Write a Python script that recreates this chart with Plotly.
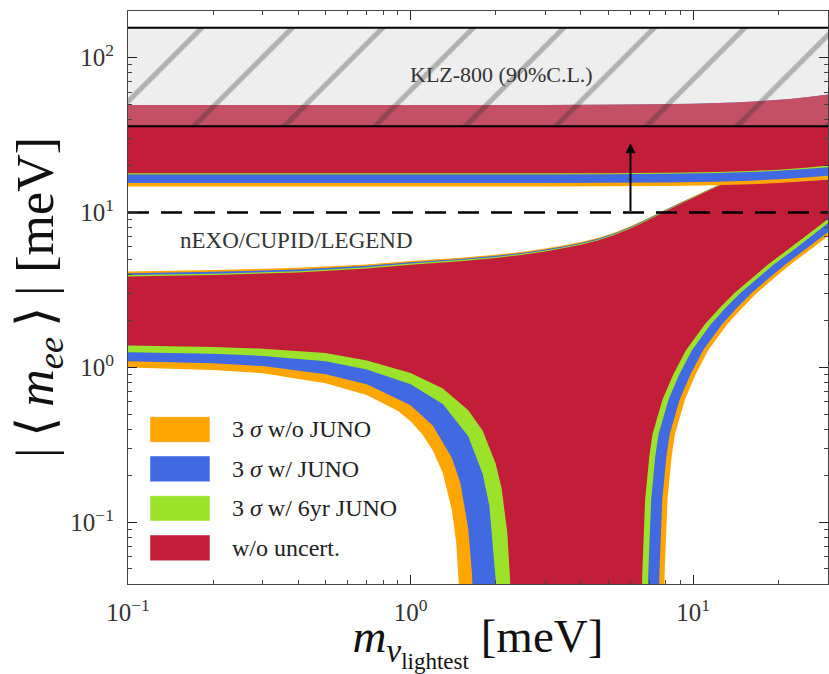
import numpy as np
import plotly.graph_objects as go

# ---------------- data (all in meV) ----------------
series_names = ["3 <i>σ</i> w/o JUNO", "3 <i>σ</i> w/ JUNO", "3 <i>σ</i> w/ 6yr JUNO", "w/o uncert."]
series_colors = ["#FFA500", "#4169E1", "#9DE22A", "#C21E3A"]

# Normal ordering: upper boundary
no_up_x = [0.1, 0.2, 0.4, 0.7, 1.0, 1.5, 2.0, 2.5, 3.0, 3.5, 4.0, 4.6, 5.2, 6.0, 6.8, 7.8, 9.0, 10.2, 12.7, 16, 20, 25, 30]
no_up_orange = [4.17, 4.25, 4.4, 4.62, 4.86, 5.1, 5.34, 5.58, 5.85, 6.15, 6.45, 6.85, 7.35, 8.15, 9.05, 10.23, 11.6, 12.89, 15.54, 19.1, 23.4, 28.8, 34.2]
no_up_blue = [4.06, 4.14, 4.29, 4.53, 4.77, 5.02, 5.26, 5.5, 5.77, 6.07, 6.37, 6.77, 7.27, 8.07, 8.97, 10.15, 11.52, 12.81, 15.46, 19.0, 23.3, 28.7, 34.1]
no_up_green = [3.95, 4.03, 4.18, 4.43, 4.68, 4.93, 5.17, 5.41, 5.68, 5.98, 6.28, 6.68, 7.18, 7.98, 8.88, 10.06, 11.43, 12.72, 15.37, 18.9, 23.2, 28.6, 34.0]
no_up_red = [3.87, 3.95, 4.1, 4.35, 4.6, 4.85, 5.09, 5.33, 5.6, 5.9, 6.2, 6.6, 7.1, 7.9, 8.8, 9.98, 11.35, 12.64, 15.29, 18.8, 23.1, 28.5, 33.9]

# Normal ordering: lower boundary, left branch (0.01 = vanishing)
no_lo_left_orange_x = [0.1, 0.2, 0.3, 0.5, 0.7, 0.9, 1.0, 1.1, 1.2, 1.3, 1.4, 1.45, 1.5, 1.53]
no_lo_left_orange_y = [1.0, 0.963, 0.918, 0.79, 0.665, 0.525, 0.45, 0.37, 0.29, 0.209, 0.12, 0.074, 0.028, 0.01]
no_lo_left_blue_x = [0.1, 0.2, 0.3, 0.5, 0.7, 1.0, 1.2, 1.4, 1.5, 1.6, 1.65, 1.7]
no_lo_left_blue_y = [1.098, 1.063, 1.02, 0.905, 0.78, 0.57, 0.42, 0.26, 0.18, 0.091, 0.046, 0.01]
no_lo_left_green_x = [0.1, 0.2, 0.3, 0.5, 0.7, 1.0, 1.3, 1.6, 1.8, 1.9, 2.0, 2.05]
no_lo_left_green_y = [1.255, 1.225, 1.187, 1.097, 0.97, 0.78, 0.58, 0.36, 0.205, 0.128, 0.043, 0.01]
no_lo_left_red_x = [0.1, 0.2, 0.3, 0.5, 0.7, 1.0, 1.3, 1.6, 1.8, 2.0, 2.1, 2.2, 2.25, 2.3]
no_lo_left_red_y = [1.386, 1.357, 1.322, 1.238, 1.11, 0.92, 0.73, 0.53, 0.39, 0.24, 0.166, 0.085, 0.0425, 0.01]

# Normal ordering: lower boundary, right branch
no_lo_right_y = [0.01, 0.045, 0.14, 0.27, 0.37, 0.62, 0.9, 1.29, 1.9, 2.42, 3.02, 3.8, 4.65, 5.65, 6.85]
no_lo_right_orange_x = [7.86, 7.92, 8.11, 8.4, 8.62, 9.35, 10.2, 11.3, 13.2, 14.9, 16.8, 19.4, 22.2, 25.6, 29.4]
no_lo_right_blue_x = [7.53, 7.59, 7.77, 8.05, 8.26, 8.96, 9.78, 10.84, 12.65, 14.26, 16.1, 18.6, 21.3, 24.5, 28.2]
no_lo_right_green_x = [6.88, 6.93, 7.1, 7.35, 7.54, 8.18, 8.93, 9.9, 11.55, 13.0, 14.7, 17.0, 19.4, 22.4, 25.7]
no_lo_right_red_x = [6.55, 6.6, 6.76, 7.0, 7.18, 7.79, 8.5, 9.43, 11.0, 12.4, 14.0, 16.2, 18.5, 21.3, 24.5]
no_lo_right_end_x = [30, 30, 30, 30]
no_lo_right_end_y = [7.05, 7.5, 8.55, 9.1]   # orange, blue, green, red at right edge

# Inverted ordering
io_up_x = [0.1, 3, 6, 10, 14, 18, 22, 26, 30]
io_up_y = [49.4, 49.5, 49.8, 50.4, 51.3, 52.6, 54.1, 55.9, 57.8]          # red & blue
io_up_inner_y = [48.6, 48.7, 49.0, 49.6, 50.5, 51.8, 53.3, 55.1, 57.0]    # orange & green
io_lo_x = [0.1, 1, 3, 5, 8, 12, 16, 20, 25, 30]
io_lo_orange = [14.7, 14.7, 14.72, 14.76, 14.84, 15.0, 15.23, 15.52, 15.92, 16.3]
io_lo_blue = [15.5, 15.5, 15.52, 15.56, 15.65, 15.82, 16.07, 16.38, 16.83, 17.3]
io_lo_green = [17.6, 17.6, 17.62, 17.66, 17.77, 17.97, 18.24, 18.6, 19.1, 19.6]
io_lo_red = [17.9, 17.9, 17.92, 17.96, 18.07, 18.27, 18.55, 18.91, 19.45, 20.1]

# Experimental limits
klz_x = [0.1, 30]
klz_low = 36.0
klz_high = 156.0
future_limit = 10.0
arrow_x = 6.0
arrow_y = [10.0, 28.0]

x_range = [0.1, 30]
y_range = [0.04, 200]
x_tickvals = [0.1, 1, 10]
x_ticktext = ["10<sup>−1</sup>", "10<sup>0</sup>", "10<sup>1</sup>"]
y_tickvals = [0.1, 1, 10, 100]
y_ticktext = ["10<sup>−1</sup>", "10<sup>0</sup>", "10<sup>1</sup>", "10<sup>2</sup>"]

# ---------------- figure ----------------
fig = go.Figure()

no_up = [no_up_orange, no_up_blue, no_up_green, no_up_red]
no_left = [(no_lo_left_orange_x, no_lo_left_orange_y), (no_lo_left_blue_x, no_lo_left_blue_y),
           (no_lo_left_green_x, no_lo_left_green_y), (no_lo_left_red_x, no_lo_left_red_y)]
no_right = [no_lo_right_orange_x, no_lo_right_blue_x, no_lo_right_green_x, no_lo_right_red_x]
io_lo = [io_lo_orange, io_lo_blue, io_lo_green, io_lo_red]
io_up = [io_up_inner_y, io_up_y, io_up_inner_y, io_up_y]

for i in range(4):
    rx = list(no_right[i]) + [no_lo_right_end_x[i]]
    ry = list(no_lo_right_y) + [no_lo_right_end_y[i]]
    lx, ly = no_left[i]
    xs = list(no_up_x) + rx[::-1] + list(lx)[::-1]
    ys = list(no_up[i]) + ry[::-1] + list(ly)[::-1]
    fig.add_trace(go.Scatter(x=xs, y=ys, fill="toself", fillcolor=series_colors[i],
                             mode="none", showlegend=False, hoverinfo="skip"))

for i in range(4):
    xs = list(io_lo_x) + list(io_up_x)[::-1]
    ys = list(io_lo[i]) + list(io_up[i])[::-1]
    fig.add_trace(go.Scatter(x=xs, y=ys, fill="toself", fillcolor=series_colors[i],
                             mode="none", showlegend=False, hoverinfo="skip"))

# KLZ excluded band (translucent gray + hatch)
kx = [klz_x[0], klz_x[1], klz_x[1], klz_x[0]]
ky = [klz_low, klz_low, klz_high, klz_high]
fig.add_trace(go.Scatter(x=kx, y=ky, fill="toself", fillcolor="rgba(200,200,200,0.3)",
                         mode="none", showlegend=False, hoverinfo="skip"))
fig.add_trace(go.Scatter(x=kx, y=ky, fill="toself", fillcolor="rgba(0,0,0,0)", mode="none",
                         fillpattern=dict(shape="/", size=64, solidity=0.08,
                                          fgcolor="rgba(40,40,40,0.62)", bgcolor="rgba(0,0,0,0)"),
                         showlegend=False, hoverinfo="skip"))
for yv in (klz_low, klz_high):
    fig.add_trace(go.Scatter(x=klz_x, y=[yv, yv], mode="lines",
                             line=dict(color="black", width=2), showlegend=False, hoverinfo="skip"))

# future sensitivity (dashed)
fig.add_trace(go.Scatter(x=klz_x, y=[future_limit, future_limit], mode="lines",
                         line=dict(color="black", width=2.6, dash="21px,12px"),
                         showlegend=False, hoverinfo="skip"))

fig.add_annotation(x=np.log10(arrow_x), y=np.log10(arrow_y[1]), ax=np.log10(arrow_x),
                   ay=np.log10(arrow_y[0]), axref="x", ayref="y", xref="x", yref="y",
                   showarrow=True, arrowhead=2, arrowsize=1.0, arrowwidth=2, arrowcolor="black", text="")

serif = "Liberation Serif"
fig.add_annotation(x=np.log10(2.09), y=np.log10(78), text="KLZ-800 (90%C.L.)", showarrow=False,
                   font=dict(family=serif, size=22, color="#333"))
fig.add_annotation(x=np.log10(0.394), y=np.log10(6.6), text="nEXO/CUPID/LEGEND", showarrow=False,
                   font=dict(family=serif, size=23, color="#333"))

# legend (drawn inside the axes)
leg_box_y = [(0.2473, 0.292), (0.1785, 0.2234), (0.1099, 0.1541), (0.0407, 0.0855)]
for i in range(4):
    y0, y1 = leg_box_y[i]
    fig.add_shape(type="rect", xref="paper", yref="paper", x0=0.0314, x1=0.1171, y0=y0, y1=y1,
                  fillcolor=series_colors[i], line=dict(width=0.8, color="rgba(255,255,255,0.6)"))
    fig.add_annotation(xref="paper", yref="paper", x=0.145, y=(y0 + y1) / 2, xanchor="left",
                       yanchor="middle", text=series_names[i], showarrow=False,
                       font=dict(family=serif, size=24, color="#222"))

x_minor = [d * 10.0 ** e for e in (-1, 0, 1) for d in range(2, 10) if d * 10.0 ** e <= 30]
y_minor = [d * 10.0 ** e for e in (-2, -1, 0, 1, 2) for d in range(2, 10)
           if 0.04 <= d * 10.0 ** e <= 200]

axis_common = dict(type="log", showline=True, linecolor="#444", linewidth=1.2, mirror="ticks",
                   ticks="inside", ticklen=9, tickwidth=1.3, tickcolor="#222", tickmode="array",
                   showgrid=False, zeroline=False,
                   tickfont=dict(family=serif, size=25, color="#333"))

fig.update_xaxes(**axis_common, range=[np.log10(x_range[0]), np.log10(x_range[1])],
                 tickvals=x_tickvals, ticktext=x_ticktext, ticklabelstandoff=6,
                 minor=dict(ticks="inside", ticklen=4, tickwidth=1, tickcolor="#444",
                            tickmode="array", tickvals=x_minor, showgrid=False),
                 title=dict(text="<i>m</i><sub><i>ν</i><sub>lightest</sub></sub> [meV]",
                            font=dict(family=serif, size=47, color="#111"), standoff=0))
fig.update_yaxes(**axis_common, range=[np.log10(y_range[0]), np.log10(y_range[1])],
                 tickvals=y_tickvals, ticktext=y_ticktext, ticklabelstandoff=8,
                 minor=dict(ticks="inside", ticklen=4, tickwidth=1, tickcolor="#444",
                            tickmode="array", tickvals=y_minor, showgrid=False),
                 title=dict(text="|\u2009⟨\u2009<i>m</i><sub><i>ee</i></sub>\u2009⟩\u2009| [meV]",
                            font=dict(family=serif, size=52, color="#111"), standoff=0))

fig.update_layout(width=829, height=674, margin=dict(l=128, r=1, t=11, b=90),
                  plot_bgcolor="white", paper_bgcolor="white", showlegend=False)

fig.write_html("out.html")
